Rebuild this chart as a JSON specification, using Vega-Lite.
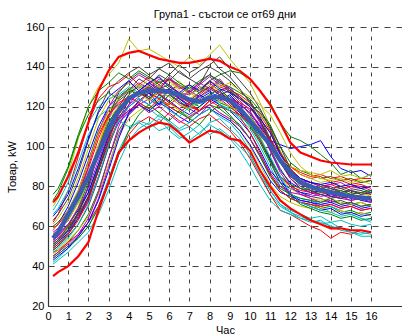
{
  "$schema": "https://vega.github.io/schema/vega-lite/v6.json",
  "width": 354,
  "height": 279,
  "autosize": {"type": "none"},
  "padding": {"left": 48, "top": 27, "right": 0, "bottom": 28},
  "background": "white",
  "config": {
    "view": {"stroke": null},
    "font": "Liberation Sans",
    "axis": {"labelFont": "Liberation Sans", "titleFont": "Liberation Sans", "labelColor": "#000", "titleColor": "#000", "labelFontSize": 11, "titleFontSize": 11, "titleFontWeight": "normal", "ticks": false, "domainColor": "#333", "domainWidth": 1.2, "gridColor": "#222", "gridWidth": 1, "gridOpacity": 0.85}
  },
  "title": {"text": "Група1 - състои се от69 дни", "font": "Liberation Sans", "fontSize": 11, "fontWeight": "normal", "color": "#000", "anchor": "middle", "frame": "group", "baseline": "bottom", "offset": 7, "dy": 17},
  "data": {"values": [
    {"h":0.25,"d01":50,"d02":45,"d03":62,"d04":42,"d05":55,"d06":70,"d07":52,"d08":58,"d09":48,"d10":47,"d11":68,"d12":44,"d13":50,"d14":60,"d15":54,"d16":76,"d17":53,"d18":41,"d19":57,"d20":46,"d21":63,"d22":49,"d23":51,"d24":56,"d25":66,"d26":52,"d27":58,"d28":48,"d29":43,"d30":73,"d31":49,"d32":56,"d33":45,"d34":61,"d35":50,"d36":65,"d37":44,"d38":59,"d39":47,"d40":53,"d41":55,"d42":51,"mean":54,"up":72,"lo":35},
    {"h":0.5,"d01":52,"d02":47,"d03":66,"d04":44,"d05":57,"d06":74,"d07":54,"d08":61,"d09":50,"d10":48,"d11":72,"d12":46,"d13":53,"d14":62,"d15":56,"d16":79,"d17":55,"d18":43,"d19":59,"d20":48,"d21":66,"d22":51,"d23":53,"d24":58,"d25":69,"d26":54,"d27":61,"d28":50,"d29":45,"d30":77,"d31":51,"d32":58,"d33":47,"d34":64,"d35":52,"d36":68,"d37":46,"d38":61,"d39":49,"d40":55,"d41":57,"d42":53,"mean":57,"up":75,"lo":37},
    {"h":1,"d01":58,"d02":52,"d03":78,"d04":49,"d05":63,"d06":86,"d07":59,"d08":70,"d09":56,"d10":52,"d11":82,"d12":50,"d13":60,"d14":68,"d15":61,"d16":90,"d17":60,"d18":47,"d19":66,"d20":53,"d21":74,"d22":57,"d23":60,"d24":66,"d25":78,"d26":58,"d27":68,"d28":55,"d29":49,"d30":89,"d31":56,"d32":64,"d33":51,"d34":72,"d35":58,"d36":76,"d37":50,"d38":67,"d39":54,"d40":61,"d41":63,"d42":58,"mean":66,"up":85,"lo":40},
    {"h":1.5,"d01":66,"d02":58,"d03":95,"d04":54,"d05":72,"d06":104,"d07":67,"d08":82,"d09":64,"d10":56,"d11":98,"d12":55,"d13":70,"d14":78,"d15":68,"d16":106,"d17":66,"d18":52,"d19":76,"d20":58,"d21":87,"d22":64,"d23":69,"d24":77,"d25":92,"d26":64,"d27":78,"d28":61,"d29":55,"d30":105,"d31":63,"d32":72,"d33":56,"d34":84,"d35":67,"d36":89,"d37":54,"d38":76,"d39":61,"d40":69,"d41":72,"d42":65,"mean":75,"up":97,"lo":45},
    {"h":2,"d01":80,"d02":66,"d03":112,"d04":60,"d05":84,"d06":120,"d07":77,"d08":96,"d09":75,"d10":62,"d11":112,"d12":62,"d13":84,"d14":93,"d15":77,"d16":120,"d17":75,"d18":57,"d19":90,"d20":65,"d21":103,"d22":74,"d23":82,"d24":92,"d25":106,"d26":72,"d27":92,"d28":70,"d29":62,"d30":116,"d31":73,"d32":84,"d33":64,"d34":99,"d35":80,"d36":104,"d37":60,"d38":89,"d39":71,"d40":79,"d41":85,"d42":75,"mean":85,"up":112,"lo":52},
    {"h":2.5,"d01":97,"d02":78,"d03":124,"d04":70,"d05":100,"d06":130,"d07":91,"d08":110,"d09":90,"d10":70,"d11":120,"d12":74,"d13":101,"d14":108,"d15":91,"d16":128,"d17":88,"d18":66,"d19":107,"d20":76,"d21":118,"d22":88,"d23":98,"d24":106,"d25":115,"d26":85,"d27":107,"d28":84,"d29":73,"d30":123,"d31":88,"d32":97,"d33":77,"d34":114,"d35":98,"d36":117,"d37":69,"d38":104,"d39":85,"d40":93,"d41":101,"d42":89,"mean":97,"up":128,"lo":68},
    {"h":3,"d01":112,"d02":94,"d03":130,"d04":84,"d05":114,"d06":136,"d07":106,"d08":120,"d09":106,"d10":82,"d11":124,"d12":90,"d13":116,"d14":118,"d15":105,"d16":132,"d17":103,"d18":78,"d19":120,"d20":91,"d21":128,"d22":102,"d23":112,"d24":116,"d25":119,"d26":100,"d27":118,"d28":100,"d29":88,"d30":127,"d31":102,"d32":108,"d33":94,"d34":123,"d35":115,"d36":125,"d37":82,"d38":116,"d39":101,"d40":106,"d41":114,"d42":104,"mean":109,"up":138,"lo":82},
    {"h":3.5,"d01":120,"d02":108,"d03":132,"d04":98,"d05":124,"d06":142,"d07":120,"d08":125,"d09":118,"d10":96,"d11":126,"d12":106,"d13":124,"d14":123,"d15":115,"d16":137,"d17":116,"d18":92,"d19":128,"d20":105,"d21":133,"d22":112,"d23":120,"d24":121,"d25":121,"d26":113,"d27":125,"d28":114,"d29":104,"d30":124,"d31":113,"d32":113,"d33":110,"d34":128,"d35":127,"d36":129,"d37":96,"d38":122,"d39":113,"d40":114,"d41":120,"d42":117,"mean":118,"up":145,"lo":97},
    {"h":4,"d01":124,"d02":116,"d03":136,"d04":108,"d05":128,"d06":154,"d07":128,"d08":129,"d09":126,"d10":106,"d11":130,"d12":116,"d13":129,"d14":127,"d15":120,"d16":134,"d17":123,"d18":103,"d19":132,"d20":114,"d21":137,"d22":117,"d23":124,"d24":125,"d25":118,"d26":121,"d27":128,"d28":123,"d29":117,"d30":129,"d31":118,"d32":110,"d33":121,"d34":132,"d35":133,"d36":133,"d37":108,"d38":125,"d39":120,"d40":118,"d41":124,"d42":123,"mean":124,"up":147,"lo":103},
    {"h":4.5,"d01":128,"d02":121,"d03":131,"d04":113,"d05":132,"d06":148,"d07":134,"d08":126,"d09":131,"d10":112,"d11":127,"d12":121,"d13":126,"d14":130,"d15":124,"d16":138,"d17":127,"d18":109,"d19":136,"d20":118,"d21":140,"d22":121,"d23":128,"d24":122,"d25":122,"d26":125,"d27":131,"d28":128,"d29":123,"d30":125,"d31":122,"d32":112,"d33":128,"d34":129,"d35":137,"d36":128,"d37":116,"d38":128,"d39":124,"d40":121,"d41":127,"d42":127,"mean":127,"up":148,"lo":107},
    {"h":5,"d01":125,"d02":118,"d03":135,"d04":111,"d05":129,"d06":149,"d07":131,"d08":131,"d09":128,"d10":115,"d11":124,"d12":124,"d13":131,"d14":127,"d15":121,"d16":135,"d17":130,"d18":112,"d19":133,"d20":121,"d21":136,"d22":118,"d23":125,"d24":127,"d25":119,"d26":128,"d27":127,"d28":132,"d29":127,"d30":130,"d31":119,"d32":109,"d33":132,"d34":134,"d35":134,"d36":132,"d37":121,"d38":124,"d39":121,"d40":117,"d41":123,"d42":124,"mean":128,"up":146,"lo":110},
    {"h":5.5,"d01":130,"d02":123,"d03":132,"d04":116,"d05":134,"d06":146,"d07":136,"d08":127,"d09":133,"d10":112,"d11":128,"d12":120,"d13":135,"d14":124,"d15":126,"d16":131,"d17":126,"d18":108,"d19":130,"d20":117,"d21":139,"d22":122,"d23":121,"d24":124,"d25":115,"d26":131,"d27":130,"d28":129,"d29":121,"d30":126,"d31":124,"d32":114,"d33":128,"d34":130,"d35":139,"d36":135,"d37":117,"d38":127,"d39":125,"d40":120,"d41":128,"d42":129,"mean":128,"up":144,"lo":112},
    {"h":6,"d01":127,"d02":120,"d03":134,"d04":112,"d05":131,"d06":143,"d07":133,"d08":129,"d09":129,"d10":117,"d11":125,"d12":126,"d13":130,"d14":128,"d15":123,"d16":136,"d17":129,"d18":110,"d19":134,"d20":122,"d21":142,"d22":119,"d23":126,"d24":121,"d25":113,"d26":127,"d27":133,"d28":134,"d29":129,"d30":122,"d31":120,"d32":108,"d33":135,"d34":127,"d35":136,"d36":130,"d37":113,"d38":122,"d39":118,"d40":116,"d41":125,"d42":131,"mean":127.5,"up":143,"lo":111},
    {"h":6.5,"d01":122,"d02":117,"d03":129,"d04":108,"d05":127,"d06":140,"d07":138,"d08":124,"d09":126,"d10":113,"d11":121,"d12":122,"d13":133,"d14":131,"d15":119,"d16":132,"d17":125,"d18":105,"d19":130,"d20":118,"d21":137,"d22":115,"d23":123,"d24":125,"d25":109,"d26":124,"d27":128,"d28":131,"d29":124,"d30":127,"d31":117,"d32":104,"d33":130,"d34":131,"d35":141,"d36":127,"d37":118,"d38":119,"d39":115,"d40":112,"d41":121,"d42":126,"mean":126,"up":142,"lo":107},
    {"h":7,"d01":120,"d02":114,"d03":131,"d04":110,"d05":126,"d06":145,"d07":134,"d08":121,"d09":130,"d10":110,"d11":118,"d12":119,"d13":127,"d14":126,"d15":116,"d16":129,"d17":122,"d18":103,"d19":127,"d20":115,"d21":134,"d22":112,"d23":119,"d24":120,"d25":112,"d26":128,"d27":124,"d28":128,"d29":120,"d30":123,"d31":121,"d32":107,"d33":127,"d34":126,"d35":137,"d36":131,"d37":114,"d38":122,"d39":120,"d40":115,"d41":119,"d42":123,"mean":123.5,"up":142,"lo":102},
    {"h":7.5,"d01":124,"d02":118,"d03":127,"d04":106,"d05":129,"d06":141,"d07":131,"d08":125,"d09":127,"d10":114,"d11":122,"d12":116,"d13":124,"d14":130,"d15":120,"d16":133,"d17":126,"d18":107,"d19":131,"d20":119,"d21":138,"d22":116,"d23":123,"d24":118,"d25":116,"d26":125,"d27":127,"d28":132,"d29":126,"d30":120,"d31":118,"d32":111,"d33":132,"d34":129,"d35":140,"d36":128,"d37":111,"d38":118,"d39":123,"d40":118,"d41":123,"d42":127,"mean":122.5,"up":143,"lo":105},
    {"h":8,"d01":127,"d02":121,"d03":133,"d04":112,"d05":132,"d06":146,"d07":140,"d08":128,"d09":133,"d10":116,"d11":125,"d12":121,"d13":129,"d14":128,"d15":124,"d16":136,"d17":130,"d18":111,"d19":135,"d20":121,"d21":141,"d22":119,"d23":126,"d24":123,"d25":119,"d26":129,"d27":131,"d28":136,"d29":123,"d30":126,"d31":123,"d32":106,"d33":129,"d34":133,"d35":145,"d36":133,"d37":117,"d38":123,"d39":126,"d40":121,"d41":126,"d42":130,"mean":124.5,"up":144,"lo":108},
    {"h":8.5,"d01":123,"d02":119,"d03":130,"d04":114,"d05":128,"d06":151,"d07":137,"d08":124,"d09":136,"d10":112,"d11":121,"d12":124,"d13":132,"d14":133,"d15":121,"d16":132,"d17":127,"d18":108,"d19":131,"d20":117,"d21":145,"d22":116,"d23":122,"d24":126,"d25":115,"d26":126,"d27":128,"d28":133,"d29":128,"d30":129,"d31":120,"d32":109,"d33":134,"d34":130,"d35":139,"d36":129,"d37":121,"d38":126,"d39":121,"d40":117,"d41":123,"d42":126,"mean":125,"up":143,"lo":107},
    {"h":9,"d01":126,"d02":115,"d03":128,"d04":109,"d05":130,"d06":144,"d07":133,"d08":125,"d09":138,"d10":108,"d11":119,"d12":120,"d13":128,"d14":127,"d15":118,"d16":130,"d17":124,"d18":104,"d19":129,"d20":114,"d21":139,"d22":113,"d23":120,"d24":121,"d25":112,"d26":124,"d27":124,"d28":129,"d29":122,"d30":124,"d31":118,"d32":105,"d33":128,"d34":132,"d35":135,"d36":127,"d37":116,"d38":121,"d39":118,"d40":114,"d41":120,"d42":128,"mean":123,"up":140,"lo":104},
    {"h":9.5,"d01":121,"d02":111,"d03":126,"d04":104,"d05":124,"d06":138,"d07":128,"d08":121,"d09":137,"d10":102,"d11":114,"d12":116,"d13":125,"d14":122,"d15":113,"d16":127,"d17":122,"d18":98,"d19":125,"d20":108,"d21":133,"d22":108,"d23":116,"d24":117,"d25":106,"d26":121,"d27":119,"d28":125,"d29":117,"d30":119,"d31":116,"d32":100,"d33":123,"d34":128,"d35":129,"d36":124,"d37":110,"d38":115,"d39":115,"d40":110,"d41":118,"d42":124,"mean":119,"up":138,"lo":103},
    {"h":10,"d01":117,"d02":104,"d03":122,"d04":96,"d05":120,"d06":132,"d07":123,"d08":117,"d09":134,"d10":94,"d11":109,"d12":111,"d13":121,"d14":116,"d15":107,"d16":124,"d17":119,"d18":90,"d19":120,"d20":100,"d21":127,"d22":101,"d23":110,"d24":111,"d25":98,"d26":117,"d27":113,"d28":120,"d29":112,"d30":112,"d31":113,"d32":95,"d33":118,"d34":125,"d35":122,"d36":120,"d37":104,"d38":107,"d39":111,"d40":104,"d41":115,"d42":121,"mean":113,"up":134,"lo":98},
    {"h":10.5,"d01":110,"d02":95,"d03":116,"d04":86,"d05":113,"d06":122,"d07":115,"d08":110,"d09":128,"d10":85,"d11":100,"d12":103,"d13":116,"d14":108,"d15":98,"d16":118,"d17":114,"d18":81,"d19":112,"d20":91,"d21":119,"d22":92,"d23":102,"d24":103,"d25":88,"d26":111,"d27":105,"d28":113,"d29":104,"d30":104,"d31":109,"d32":86,"d33":109,"d34":121,"d35":113,"d36":114,"d37":95,"d38":97,"d39":104,"d40":96,"d41":109,"d42":117,"mean":107,"up":128,"lo":88},
    {"h":11,"d01":98,"d02":85,"d03":108,"d04":76,"d05":103,"d06":110,"d07":104,"d08":103,"d09":122,"d10":76,"d11":90,"d12":93,"d13":109,"d14":99,"d15":88,"d16":111,"d17":107,"d18":73,"d19":102,"d20":81,"d21":109,"d22":83,"d23":92,"d24":94,"d25":78,"d26":103,"d27":95,"d28":104,"d29":94,"d30":93,"d31":104,"d32":78,"d33":98,"d34":116,"d35":102,"d36":107,"d37":86,"d38":86,"d39":95,"d40":87,"d41":101,"d42":110,"mean":101,"up":121,"lo":80},
    {"h":11.5,"d01":88,"d02":78,"d03":97,"d04":70,"d05":92,"d06":97,"d07":92,"d08":101,"d09":112,"d10":68,"d11":80,"d12":82,"d13":98,"d14":89,"d15":82,"d16":100,"d17":97,"d18":68,"d19":92,"d20":75,"d21":97,"d22":77,"d23":82,"d24":85,"d25":71,"d26":93,"d27":85,"d28":94,"d29":84,"d30":85,"d31":96,"d32":71,"d33":87,"d34":107,"d35":92,"d36":96,"d37":79,"d38":78,"d39":85,"d40":80,"d41":94,"d42":100,"mean":93,"up":112,"lo":73},
    {"h":12,"d01":82,"d02":74,"d03":90,"d04":67,"d05":85,"d06":90,"d07":84,"d08":99,"d09":105,"d10":66,"d11":76,"d12":76,"d13":88,"d14":81,"d15":79,"d16":92,"d17":89,"d18":66,"d19":86,"d20":72,"d21":88,"d22":75,"d23":75,"d24":80,"d25":67,"d26":84,"d27":79,"d28":86,"d29":76,"d30":81,"d31":90,"d32":68,"d33":80,"d34":97,"d35":85,"d36":88,"d37":76,"d38":74,"d39":77,"d40":77,"d41":90,"d42":89,"mean":87,"up":102,"lo":69},
    {"h":12.5,"d01":79,"d02":72,"d03":86,"d04":64,"d05":82,"d06":86,"d07":80,"d08":100,"d09":103,"d10":63,"d11":74,"d12":73,"d13":83,"d14":77,"d15":77,"d16":88,"d17":84,"d18":64,"d19":83,"d20":70,"d21":84,"d22":73,"d23":71,"d24":78,"d25":65,"d26":79,"d27":76,"d28":82,"d29":72,"d30":79,"d31":87,"d32":66,"d33":76,"d34":90,"d35":81,"d36":84,"d37":74,"d38":72,"d39":72,"d40":76,"d41":88,"d42":82,"mean":82,"up":97,"lo":66},
    {"h":13,"d01":77,"d02":71,"d03":84,"d04":63,"d05":80,"d06":84,"d07":78,"d08":101,"d09":100,"d10":60,"d11":73,"d12":72,"d13":80,"d14":75,"d15":76,"d16":86,"d17":82,"d18":62,"d19":82,"d20":69,"d21":82,"d22":72,"d23":69,"d24":77,"d25":63,"d26":77,"d27":74,"d28":80,"d29":70,"d30":78,"d31":85,"d32":64,"d33":74,"d34":86,"d35":79,"d36":82,"d37":73,"d38":71,"d39":70,"d40":75,"d41":87,"d42":78,"mean":80,"up":95,"lo":63},
    {"h":13.5,"d01":78,"d02":69,"d03":85,"d04":61,"d05":79,"d06":82,"d07":77,"d08":103,"d09":96,"d10":58,"d11":71,"d12":70,"d13":79,"d14":74,"d15":78,"d16":84,"d17":80,"d18":63,"d19":80,"d20":70,"d21":81,"d22":71,"d23":67,"d24":76,"d25":62,"d26":75,"d27":73,"d28":79,"d29":68,"d30":80,"d31":86,"d32":65,"d33":72,"d34":84,"d35":78,"d36":81,"d37":72,"d38":70,"d39":68,"d40":76,"d41":86,"d42":76,"mean":78,"up":93,"lo":61},
    {"h":14,"d01":75,"d02":70,"d03":82,"d04":62,"d05":80,"d06":83,"d07":78,"d08":95,"d09":92,"d10":54,"d11":70,"d12":71,"d13":77,"d14":72,"d15":75,"d16":85,"d17":81,"d18":60,"d19":81,"d20":67,"d21":79,"d22":72,"d23":66,"d24":77,"d25":60,"d26":76,"d27":74,"d28":78,"d29":69,"d30":77,"d31":84,"d32":62,"d33":73,"d34":83,"d35":79,"d36":82,"d37":74,"d38":71,"d39":67,"d40":74,"d41":88,"d42":75,"mean":77,"up":92,"lo":59},
    {"h":14.5,"d01":74,"d02":67,"d03":83,"d04":59,"d05":77,"d06":80,"d07":75,"d08":89,"d09":86,"d10":57,"d11":68,"d12":69,"d13":78,"d14":73,"d15":76,"d16":83,"d17":79,"d18":58,"d19":82,"d20":68,"d21":80,"d22":70,"d23":64,"d24":75,"d25":59,"d26":74,"d27":72,"d28":79,"d29":66,"d30":78,"d31":85,"d32":63,"d33":71,"d34":84,"d35":77,"d36":80,"d37":71,"d38":69,"d39":65,"d40":75,"d41":85,"d42":74,"mean":76,"up":91.5,"lo":59},
    {"h":15,"d01":76,"d02":68,"d03":81,"d04":58,"d05":78,"d06":81,"d07":76,"d08":87,"d09":88,"d10":56,"d11":66,"d12":70,"d13":76,"d14":71,"d15":74,"d16":84,"d17":80,"d18":57,"d19":79,"d20":66,"d21":78,"d22":71,"d23":65,"d24":76,"d25":57,"d26":73,"d27":71,"d28":77,"d29":67,"d30":76,"d31":83,"d32":61,"d33":72,"d34":82,"d35":78,"d36":81,"d37":72,"d38":70,"d39":66,"d40":73,"d41":86,"d42":75,"mean":75,"up":91,"lo":58},
    {"h":15.5,"d01":73,"d02":66,"d03":82,"d04":57,"d05":76,"d06":79,"d07":74,"d08":88,"d09":84,"d10":58,"d11":64,"d12":68,"d13":77,"d14":72,"d15":75,"d16":82,"d17":81,"d18":55,"d19":80,"d20":67,"d21":79,"d22":69,"d23":63,"d24":77,"d25":56,"d26":74,"d27":72,"d28":78,"d29":65,"d30":77,"d31":84,"d32":60,"d33":70,"d34":83,"d35":76,"d36":79,"d37":70,"d38":68,"d39":64,"d40":74,"d41":84,"d42":73,"mean":74.5,"up":91,"lo":58},
    {"h":16,"d01":72,"d02":67,"d03":83,"d04":56,"d05":77,"d06":80,"d07":75,"d08":85,"d09":86,"d10":57,"d11":62,"d12":69,"d13":75,"d14":70,"d15":73,"d16":83,"d17":79,"d18":55,"d19":78,"d20":65,"d21":77,"d22":70,"d23":64,"d24":76,"d25":57,"d26":72,"d27":70,"d28":76,"d29":66,"d30":78,"d31":84,"d32":61,"d33":71,"d34":81,"d35":77,"d36":80,"d37":71,"d38":69,"d39":63,"d40":72,"d41":86,"d42":74,"mean":74,"up":91,"lo":57}
  ]},
  "encoding": {
    "x": {"field": "h", "type": "quantitative", "scale": {"domain": [0, 17.53], "nice": false, "zero": false},
      "axis": {"title": "Час", "values": [0,1,2,3,4,5,6,7,8,9,10,11,12,13,14,15,16], "labelAngle": 0, "labelFlush": false, "labelOverlap": false, "labelPadding": 4, "titlePadding": 3, "gridDash": [4, 5]}},
    "y": {"field": "v", "type": "quantitative", "scale": {"domain": [20, 160], "nice": false, "zero": false},
      "axis": {"title": "Товар, kW", "values": [20,40,60,80,100,120,140,160], "labelPadding": 4, "titlePadding": 8, "gridDash": [6, 6], "labelFlush": false}}
  },
  "layer": [
    {
      "transform": [{"fold": ["d01","d02","d03","d04","d05","d06","d07","d08","d09","d10","d11","d12","d13","d14","d15","d16","d17","d18","d19","d20","d21","d22","d23","d24","d25","d26","d27","d28","d29","d30","d31","d32","d33","d34","d35","d36","d37","d38","d39","d40","d41","d42"], "as": ["day", "v"]}],
      "mark": {"type": "line", "strokeWidth": 1, "clip": true},
      "encoding": {
        "color": {"field": "day", "type": "nominal", "legend": null,
          "scale": {"domain": ["d01","d02","d03","d04","d05","d06","d07","d08","d09","d10","d11","d12","d13","d14","d15","d16","d17","d18","d19","d20","d21","d22","d23","d24","d25","d26","d27","d28","d29","d30","d31","d32","d33","d34","d35","d36","d37","d38","d39","d40","d41","d42"],
            "range": ["#0000ff","#008000","#ff0000","#00bfbf","#bf00bf","#bfbf00","#404040","#0000ff","#008000","#ff0000","#00bfbf","#bf00bf","#bfbf00","#404040","#0000ff","#008000","#ff0000","#00bfbf","#bf00bf","#bfbf00","#404040","#0000ff","#008000","#ff0000","#00bfbf","#bf00bf","#bfbf00","#404040","#0000ff","#008000","#ff0000","#00bfbf","#bf00bf","#bfbf00","#404040","#0000ff","#008000","#ff0000","#00bfbf","#bf00bf","#bfbf00","#404040"]}}
      }
    },
    {
      "transform": [{"fold": ["up", "lo"], "as": ["band", "v"]}],
      "mark": {"type": "line", "color": "#ff0000", "strokeWidth": 2.2},
      "encoding": {"detail": {"field": "band", "type": "nominal"}}
    },
    {
      "transform": [{"fold": ["mean"], "as": ["k", "v"]}],
      "mark": {"type": "line", "color": "#3a5bb0", "strokeWidth": 4.5},
      "encoding": {}
    }
  ]
}
